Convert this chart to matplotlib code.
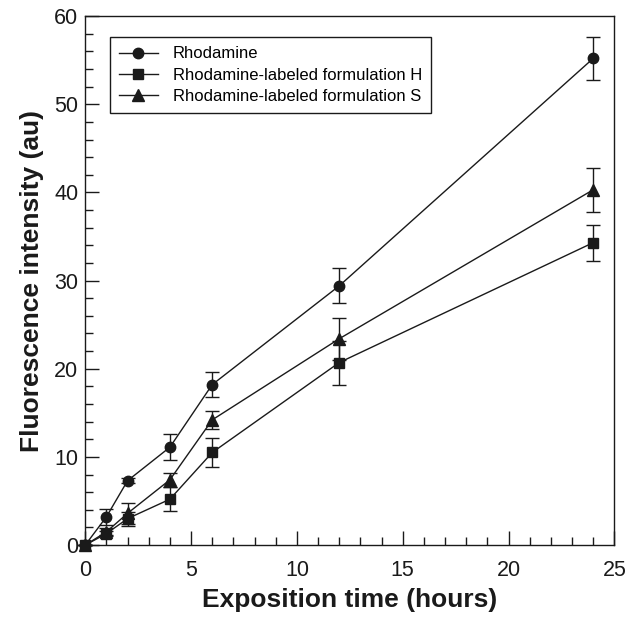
import matplotlib
matplotlib.use("Agg")
import matplotlib.pyplot as plt
import numpy as np
from matplotlib.ticker import MultipleLocator

plt.rcParams['font.family'] = ['Liberation Sans', 'DejaVu Sans']

# Tid (timer)
tid = [0, 1, 2, 4, 6, 12, 24]

# Rhodamine
rhod = [0, 3.2, 7.3, 11.1, 18.2, 29.4, 55.2]
rhod_err = [0, 0.9, 0.3, 1.5, 1.4, 2.0, 2.4]

# Formulering H
formH = [0, 1.3, 3.0, 5.2, 10.5, 20.7, 34.3]
formH_err = [0, 0.3, 0.8, 1.35, 1.7, 2.5, 2.05]

# Formulering S
formS = [0, 1.5, 3.6, 7.4, 14.2, 23.4, 40.3]
formS_err = [0, 0.4, 1.2, 0.8, 1.0, 2.4, 2.5]

navn = ["Rhodamine",
        "Rhodamine-labeled formulation H",
        "Rhodamine-labeled formulation S"]


def main():
    fig = plt.figure(figsize=(6.36, 6.18), dpi=100)
    ax = fig.add_axes([0.134, 0.118, 0.832, 0.856])

    farge = "#1a1a1a"
    serier = [(rhod, rhod_err, "o", 7.5),
              (formH, formH_err, "s", 7.5),
              (formS, formS_err, "^", 8)]

    # Feilstolper først, så linjer og markører (uten stolper i legenden)
    for (y, e, m, ms), lab in zip(serier, navn):
        ax.errorbar(tid, y, yerr=e, fmt="none", ecolor=farge,
                    elinewidth=1.0, capsize=5, capthick=1.0, clip_on=False)
        ax.plot(tid, y, color=farge, linewidth=1.0, marker=m, markersize=ms,
                label=lab, clip_on=False, zorder=3)

    ax.set_xlim(0, 25)
    ax.set_ylim(0, 60)
    ax.xaxis.set_major_locator(MultipleLocator(5))
    ax.xaxis.set_minor_locator(MultipleLocator(1))
    ax.yaxis.set_major_locator(MultipleLocator(10))
    ax.yaxis.set_minor_locator(MultipleLocator(2))

    ax.tick_params(which="both", direction="in", top=False, right=False,
                   labelsize=15.5, color=farge, labelcolor=farge)
    ax.tick_params(which="major", length=10, width=1.0)
    ax.tick_params(axis="y", which="major", pad=5)
    ax.tick_params(axis="x", which="major", pad=11)
    ax.tick_params(which="minor", length=6, width=1.0)

    for s in ax.spines.values():
        s.set_linewidth(1.0)
        s.set_color(farge)

    ax.set_xlabel("Exposition time (hours)", fontsize=19, fontweight="bold",
                  color=farge)
    ax.set_ylabel("Fluorescence intensity (au)", fontsize=19,
                  fontweight="bold", color=farge)
    # Plassering av aksetitler (i aksebrøk, 529 px per akse)
    ax.xaxis.set_label_coords(0.5, -43 / 529)
    ax.yaxis.set_label_coords(-41 / 529, 0.5)

    leg = ax.legend(loc="upper left", bbox_to_anchor=(0.047, 0.96),
                    borderaxespad=0, fontsize=12, fancybox=False,
                    framealpha=1, edgecolor=farge, borderpad=0.55,
                    labelspacing=0.38, handlelength=2.3, handletextpad=0.9)
    leg.get_frame().set_linewidth(1.0)

    fig.savefig("out.png", dpi=100)


if __name__ == "__main__":
    main()
